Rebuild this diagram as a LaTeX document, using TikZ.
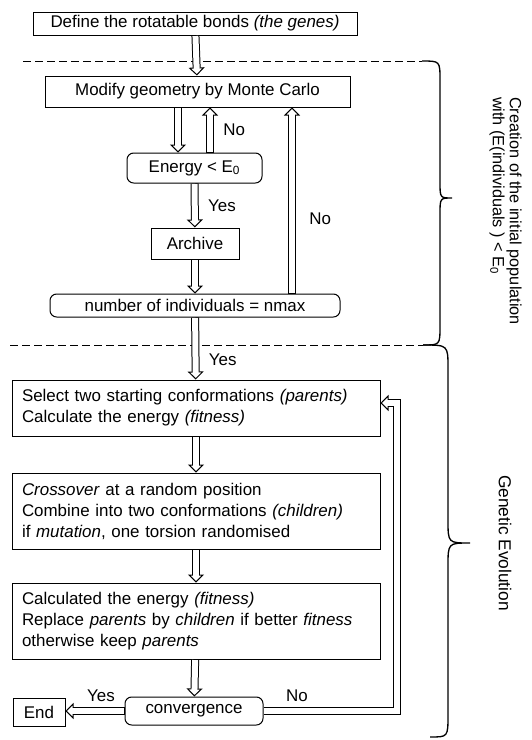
\documentclass[tikz,border=0pt]{standalone}
\usepackage{fontspec}
\setmainfont{Liberation Sans}
\usetikzlibrary{arrows.meta}

\tikzset{
  stepbox/.style={draw, line width=0.75pt, inner sep=2pt, font=\fontsize{12.7}{15.75}\selectfont},
  testbox/.style={stepbox, rounded corners=5pt},
  textbox/.style={stepbox, text width=261pt, align=left, inner xsep=7.5pt},
  pipe/.style={line width=6pt, -{Triangle[open, length=6pt, width=12pt, line width=0.75pt]},
    postaction={draw=white, line width=4.5pt, -, shorten >=5pt, shorten <=0.4pt}},
  lbl/.style={font=\fontsize{12.7}{15.75}\selectfont, inner sep=1pt},
  sidenote/.style={lbl, rotate=-90, align=left},
}

\begin{document}
\begin{tikzpicture}[x=0.75pt, y=-0.75pt]
  \useasboundingbox (0,0) rectangle (532,740);

  % Phase separators and braces
  \draw[line width=0.75pt, dash pattern=on 6pt off 3pt] (23,61) -- (422,61);
  \draw[line width=0.75pt, dash pattern=on 6pt off 3pt] (10,345) -- (423,345);
  \draw[line width=1pt] (422,61) .. controls (440,61) .. (440,80) -- (440,182)
    .. controls (440,198) .. (452,198) .. controls (440,198) .. (440,214)
    -- (440,326) .. controls (440,345) .. (423,345);
  \draw[line width=1pt] (423,345) .. controls (448,345) .. (448,368) -- (448,520)
    .. controls (448,543) .. (470,543) .. controls (448,543) .. (448,566)
    -- (448,715) .. controls (448,737) .. (430,737);
  \node[sidenote, font=\fontsize{12.2}{12.75}\selectfont] (initnote) at (505.5,211) {Creation of the initial population\\with (E(individuals ) < E\textsubscript{0}};
  \node[sidenote, font=\fontsize{13}{12.75}\selectfont] (gennote) at (505,543) {Genetic Evolution};

  % Initial population
  \node[stepbox, minimum width=243pt, minimum height=17.25pt] (genes) at (195,23.5) {Define the rotatable bonds \textit{(the genes)}};
  \node[stepbox, minimum width=228.75pt, minimum height=23.25pt] (modify) at (197.5,91.5) {Modify geometry by Monte Carlo};
  \node[testbox, minimum width=101.25pt, minimum height=22.5pt] (energy) at (194.5,168) {Energy < E\textsubscript{0}};
  \node[stepbox, minimum width=66pt, minimum height=23.25pt] (archive) at (195,243.5) {Archive};
  \node[testbox, minimum width=217.5pt, minimum height=17.25pt] (nmax) at (195,305.5) {number of individuals = nmax};

  % Genetic evolution
  \node[textbox, minimum height=42pt] (select) at (196,408) {Select two starting conformations \textit{(parents)}\\Calculate the energy \textit{(fitness)}};
  \node[textbox, minimum height=57pt] (cross) at (196,511) {\textit{Crossover} at a random position\\Combine into two conformations \textit{(children)}\\if \textit{mutation}, one torsion randomised};
  \node[textbox, minimum height=57pt] (replace) at (196,621) {Calculated the energy \textit{(fitness)}\\Replace \textit{parents} by \textit{children} if better \textit{fitness}\\otherwise keep \textit{parents}};
  \node[testbox, minimum width=103.5pt, minimum height=21pt] (conv) at (194,711) {convergence};
  \node[stepbox, minimum width=39pt, minimum height=21pt] (finish) at (39,712) {End};

  % Connectors
  \draw[pipe] (genes) -- (modify);
  \draw[pipe] (178,0 |- modify.south) -- (178,0 |- energy.north);
  \draw[pipe] (210,0 |- energy.north) -- node[lbl, right=6pt] {No} (210,0 |- modify.south);
  \draw[pipe] (energy) -- node[lbl, right=6pt] {Yes} (archive);
  \draw[pipe] (archive) -- (nmax);
  \draw[pipe] (292,0 |- nmax.north) -- node[lbl, right=9pt, pos=0.4] {No} (292,0 |- modify.south);
  \draw[pipe] (nmax) -- node[lbl, right=6pt, pos=0.68] {Yes} (select);
  \draw[pipe] (select) -- (cross);
  \draw[pipe] (cross) -- (replace);
  \draw[pipe] (replace) -- (conv);
  \draw[pipe] (conv.west) -- node[lbl, above=3pt, pos=0.4] {Yes} (conv.west -| finish.east);
  \draw[pipe] (conv.east) -- node[lbl, above=3pt, pos=0.25] {No} (397,0 |- conv.east)
    |- ([yshift=3.75pt]select.east);
\end{tikzpicture}
\end{document}
